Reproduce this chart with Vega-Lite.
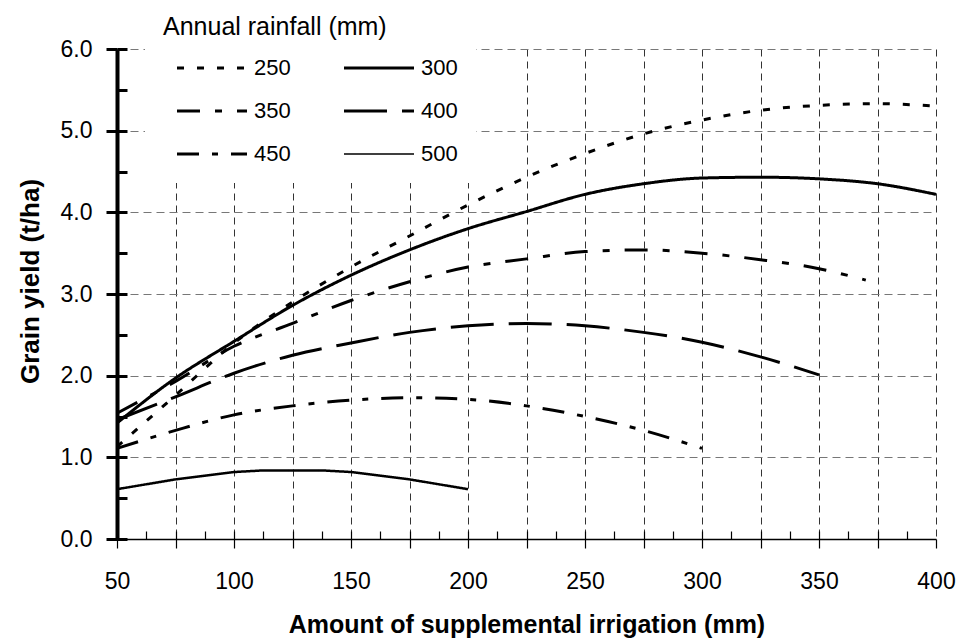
{
  "$schema": "https://vega.github.io/schema/vega-lite/v6.json",
  "width": 819,
  "height": 490,
  "autosize": "none",
  "padding": {"left": 117, "top": 49, "right": 23, "bottom": 100},
  "background": "white",
  "config": {
    "view": {"stroke": null},
    "axis": {"labelFont": "Liberation Sans", "titleFont": "Liberation Sans", "labelColor": "black", "titleColor": "black", "domainColor": "black", "tickColor": "black"},
    "legend": {"labelFont": "Liberation Sans", "titleFont": "Liberation Sans", "labelColor": "black", "titleColor": "black"}
  },
  "data": {
    "values": [
      {"x": 50, "y": 1.13, "r": "250"}, {"x": 75, "y": 1.76, "r": "250"}, {"x": 100, "y": 2.40, "r": "250"}, {"x": 125, "y": 2.90, "r": "250"}, {"x": 150, "y": 3.33, "r": "250"}, {"x": 175, "y": 3.71, "r": "250"}, {"x": 200, "y": 4.09, "r": "250"}, {"x": 225, "y": 4.43, "r": "250"}, {"x": 250, "y": 4.72, "r": "250"}, {"x": 275, "y": 4.96, "r": "250"}, {"x": 300, "y": 5.13, "r": "250"}, {"x": 325, "y": 5.25, "r": "250"}, {"x": 350, "y": 5.31, "r": "250"}, {"x": 375, "y": 5.33, "r": "250"}, {"x": 400, "y": 5.30, "r": "250"},
      {"x": 50, "y": 1.42, "r": "300"}, {"x": 75, "y": 1.97, "r": "300"}, {"x": 100, "y": 2.42, "r": "300"}, {"x": 125, "y": 2.86, "r": "300"}, {"x": 150, "y": 3.23, "r": "300"}, {"x": 175, "y": 3.54, "r": "300"}, {"x": 200, "y": 3.80, "r": "300"}, {"x": 225, "y": 4.01, "r": "300"}, {"x": 250, "y": 4.22, "r": "300"}, {"x": 275, "y": 4.35, "r": "300"}, {"x": 300, "y": 4.42, "r": "300"}, {"x": 325, "y": 4.43, "r": "300"}, {"x": 350, "y": 4.41, "r": "300"}, {"x": 375, "y": 4.35, "r": "300"}, {"x": 400, "y": 4.22, "r": "300"},
      {"x": 50, "y": 1.54, "r": "350"}, {"x": 75, "y": 1.93, "r": "350"}, {"x": 100, "y": 2.36, "r": "350"}, {"x": 125, "y": 2.64, "r": "350"}, {"x": 150, "y": 2.92, "r": "350"}, {"x": 175, "y": 3.15, "r": "350"}, {"x": 200, "y": 3.33, "r": "350"}, {"x": 225, "y": 3.43, "r": "350"}, {"x": 250, "y": 3.52, "r": "350"}, {"x": 275, "y": 3.54, "r": "350"}, {"x": 300, "y": 3.50, "r": "350"}, {"x": 325, "y": 3.42, "r": "350"}, {"x": 350, "y": 3.31, "r": "350"}, {"x": 370, "y": 3.17, "r": "350"},
      {"x": 50, "y": 1.46, "r": "400"}, {"x": 75, "y": 1.74, "r": "400"}, {"x": 100, "y": 2.03, "r": "400"}, {"x": 125, "y": 2.25, "r": "400"}, {"x": 150, "y": 2.40, "r": "400"}, {"x": 175, "y": 2.53, "r": "400"}, {"x": 200, "y": 2.61, "r": "400"}, {"x": 225, "y": 2.64, "r": "400"}, {"x": 250, "y": 2.61, "r": "400"}, {"x": 275, "y": 2.53, "r": "400"}, {"x": 300, "y": 2.41, "r": "400"}, {"x": 325, "y": 2.23, "r": "400"}, {"x": 350, "y": 2.01, "r": "400"},
      {"x": 50, "y": 1.11, "r": "450"}, {"x": 75, "y": 1.33, "r": "450"}, {"x": 100, "y": 1.52, "r": "450"}, {"x": 125, "y": 1.63, "r": "450"}, {"x": 150, "y": 1.70, "r": "450"}, {"x": 175, "y": 1.73, "r": "450"}, {"x": 200, "y": 1.71, "r": "450"}, {"x": 225, "y": 1.63, "r": "450"}, {"x": 250, "y": 1.50, "r": "450"}, {"x": 275, "y": 1.33, "r": "450"}, {"x": 300, "y": 1.11, "r": "450"},
      {"x": 50, "y": 0.61, "r": "500"}, {"x": 75, "y": 0.73, "r": "500"}, {"x": 100, "y": 0.82, "r": "500"}, {"x": 112.5, "y": 0.84, "r": "500"}, {"x": 137.5, "y": 0.84, "r": "500"}, {"x": 150, "y": 0.82, "r": "500"}, {"x": 175, "y": 0.73, "r": "500"}, {"x": 200, "y": 0.61, "r": "500"}
    ]
  },
  "layer": [
    {
      "transform": [{"filter": "datum.r !== '500'"}],
      "mark": {"type": "line", "interpolate": "monotone", "color": "black"},
      "encoding": {
        "x": {"field": "x", "type": "quantitative", "scale": {"domain": [50, 400], "nice": false, "zero": false},
          "axis": {"orient": "bottom", "values": [50, 75, 100, 125, 150, 175, 200, 225, 250, 275, 300, 325, 350, 375, 400], "labelExpr": "datum.value % 50 === 0 ? datum.label : ''", "format": "d", "labelFontSize": 23, "labelBaseline": "alphabetic", "labelPadding": 40, "tickSize": 9, "tickWidth": 1.2, "domainWidth": 1.5, "grid": true, "gridColor": "#333333", "gridDash": [7, 5], "gridWidth": 1, "labelFlush": false, "title": "Amount of supplemental irrigation (mm)", "titleFontSize": 25, "titleFontWeight": "bold", "titleBaseline": "alphabetic", "titleY": 93, "titleAnchor": "middle"}},
        "y": {"field": "y", "type": "quantitative", "scale": {"domain": [0, 6], "nice": false},
          "axis": {"orient": "left", "values": [0, 1, 2, 3, 4, 5, 6], "format": ".1f", "labelFontSize": 23, "labelPadding": 14, "tickSize": 11, "tickWidth": 3, "domainWidth": 4, "grid": true, "gridColor": "#777777", "gridDash": [8, 5], "gridWidth": 1, "labelFlush": false, "title": "Grain yield (t/ha)", "titleFontSize": 26, "titleFontWeight": "bold", "titleAngle": -90, "titleBaseline": "alphabetic", "titleAlign": "center", "titleX": -79, "titleY": 232}},
        "strokeDash": {"field": "r", "type": "nominal", "scale": {"type": "ordinal", "domain": ["250", "300", "350", "400", "450", "500"], "range": [[7, 13], [1, 0], [23, 15, 7, 15], [43, 15], [22, 13, 6, 13], [1, 0]]},
          "legend": {"orient": "none", "legendX": 28, "legendY": -52, "columns": 2, "direction": "horizontal", "symbolType": "stroke", "symbolSize": 4900, "symbolStrokeColor": "black", "symbolStrokeWidth": 3, "fillColor": "white", "padding": 18, "title": "Annual rainfall (mm)", "titleLimit": 600, "titleFontSize": 25, "titleFontWeight": "normal", "titlePadding": 17, "labelFontSize": 22, "labelOffset": 31, "rowPadding": 21, "columnPadding": 39, "symbolOffset": 38,
            "encode": {"symbols": {"update": {"strokeWidth": {"signal": "datum.value === '500' ? 1.3 : 3"}}}}}},
        "strokeWidth": {"field": "r", "type": "nominal", "scale": {"type": "ordinal", "domain": ["250", "300", "350", "400", "450", "500"], "range": [3, 3, 3, 3, 3, 1.3]}, "legend": null}
      }
    },
    {
      "transform": [{"filter": "datum.r === '500'"}],
      "mark": {"type": "line", "interpolate": "linear", "color": "black"},
      "encoding": {
        "x": {"field": "x", "type": "quantitative",
          "axis": {"orient": "bottom", "values": [62.5, 75, 87.5, 100, 112.5, 125, 137.5, 150, 162.5, 175, 187.5, 200, 212.5, 225, 237.5, 250, 262.5, 275, 287.5, 300, 312.5, 325, 337.5, 350, 362.5, 375, 387.5], "labels": false, "domain": false, "grid": false, "tickSize": -8, "tickWidth": 1.2, "title": null}},
        "y": {"field": "y", "type": "quantitative",
          "axis": {"orient": "left", "values": [0, 0.5, 1, 1.5, 2, 2.5, 3, 3.5, 4, 4.5, 5, 5.5, 6], "labels": false, "domain": false, "grid": false, "tickSize": -10, "tickWidth": 3, "title": null}},
        "strokeDash": {"field": "r", "type": "nominal",
          "legend": {"orient": "none", "legendX": 28, "legendY": -52, "columns": 2, "direction": "horizontal", "symbolType": "stroke", "symbolSize": 4900, "symbolStrokeColor": "black", "symbolStrokeWidth": 3, "fillColor": "white", "padding": 18, "title": "Annual rainfall (mm)", "titleLimit": 600, "titleFontSize": 25, "titleFontWeight": "normal", "titlePadding": 17, "labelFontSize": 22, "labelOffset": 31, "rowPadding": 21, "columnPadding": 39, "symbolOffset": 38,
            "encode": {"symbols": {"update": {"strokeWidth": {"signal": "datum.value === '500' ? 1.3 : 3"}}}}}},
        "strokeWidth": {"field": "r", "type": "nominal", "legend": null}
      }
    }
  ],
  "resolve": {"axis": {"x": "independent", "y": "independent"}}
}
